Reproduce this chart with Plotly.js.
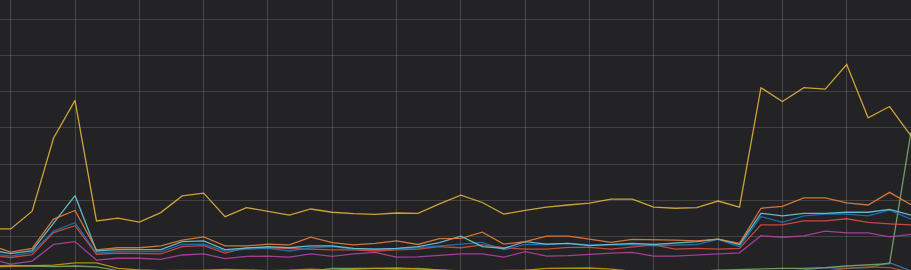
<!DOCTYPE html>
<html>
<head>
<meta charset="utf-8">
<script src="https://cdn.plot.ly/plotly-3.0.1.min.js"></script>
<style>
html,body{margin:0;padding:0;background:#232325;overflow:hidden;}
#chart{width:911px;height:270px;}
</style>
</head>
<body>
<div id="chart"></div>
<script>
// sample index (one point per time step)
const steps = Array.from({length: 44}, (_, i) => i);

const seriesGold = [12.1,12.1,17.0,37.2,47.6,14.3,15.1,14.0,16.6,21.2,22.0,15.5,18.0,16.9,15.9,17.6,16.7,16.3,16.1,16.5,16.4,19.0,21.4,19.4,16.2,17.2,18.1,18.7,19.2,20.3,20.3,18.1,17.8,18.0,19.8,18.1,51.1,47.3,51.1,50.7,57.5,42.8,45.9,37.8];
const seriesOrange = [7.7,5.7,6.7,14.8,17.2,6.3,6.9,6.9,7.4,9.0,9.9,7.4,7.4,7.9,7.7,9.8,8.3,7.7,8.1,8.8,7.8,9.4,9.5,11.2,7.9,8.6,10.1,10.1,9.3,8.4,9.2,9.2,9.0,8.8,9.3,8.1,17.8,18.3,20.7,20.7,19.3,18.7,22.2,18.8];
const seriesCyan = [6.3,5.3,6.1,13.7,21.3,6.0,6.4,6.4,6.4,8.6,8.8,6.4,6.7,7.2,6.9,7.4,7.4,6.7,6.5,6.7,7.2,8.3,10.1,7.2,6.7,8.6,7.9,8.1,7.5,7.8,8.1,7.8,8.1,8.6,9.3,7.8,16.4,15.7,16.4,16.4,16.7,16.7,17.5,15.9];
const seriesBlue = [5.4,4.6,5.6,11.5,13.8,5.4,5.8,5.8,5.8,7.8,7.9,6.0,6.5,6.7,6.0,6.9,7.2,6.5,6.5,6.5,6.9,7.4,7.7,8.4,6.3,7.8,7.8,8.1,7.7,7.8,7.8,7.4,7.7,7.8,9.2,7.2,15.5,13.9,15.7,16.2,16.2,15.7,17.3,14.8];
const seriesRed = [4.8,4.2,5.0,11.1,13.0,5.1,5.4,5.4,5.2,7.2,7.5,5.4,6.9,6.9,6.7,6.3,6.3,6.3,6.0,6.3,6.5,7.2,6.9,7.7,6.9,6.5,6.5,7.0,7.0,6.5,7.2,7.7,6.5,6.7,6.5,6.7,13.2,13.2,14.3,14.3,14.9,13.9,13.5,13.2];
const seriesPurple = [3.9,2.4,3.2,7.8,8.6,3.5,4.0,4.0,3.7,4.9,5.2,3.9,4.5,4.6,4.3,5.2,4.5,5.2,5.6,4.3,4.4,4.9,5.2,5.2,4.3,5.8,4.6,4.7,5.1,5.4,5.6,4.6,4.6,4.9,5.4,5.5,10.2,9.8,10.2,11.5,11.0,11.0,9.9,10.6];
const seriesYellowLow = [1.6,1.7,1.85,2.1,2.7,2.7,1.2,0.75,0.6,0.6,0.7,0.9,0.7,0.6,0.7,1.0,0.7,1.0,1.2,1.3,1.0,0.6,0.5,0.5,0.5,0.7,1.2,1.3,1.3,1.0,0.4,0.4,0.4,0.4,0.4,0.4,0.4,0.4,0.4,0.4,0.4,0.4,0.4,0.4];
const seriesGreen = [1.85,2.0,1.85,1.7,1.85,1.6,0.6,0.4,0.4,0.4,0.4,0.4,0.4,0.4,0.4,0.4,1.2,1.3,1.2,1.0,1.2,0.7,0.4,0.4,0.4,0.4,0.4,0.4,0.4,0.4,0.4,0.4,0.4,0.4,0.7,0.9,1.0,1.2,1.2,1.4,1.85,2.1,2.5,38.9];
const seriesBlueLow = [0.3,0.3,0.3,0.3,0.3,0.3,0.3,0.3,0.3,0.3,0.3,0.3,0.3,0.3,0.3,0.3,0.3,0.3,0.3,0.3,0.3,0.3,0.3,0.3,0.3,0.3,0.3,0.3,0.3,0.3,0.3,0.3,0.3,0.3,0.3,0.3,0.3,0.4,0.75,1.4,1.2,1.4,2.8,0.5];
const seriesOrangeLow = [0.2,0.2,0.2,0.2,0.2,0.2,0.2,0.2,0.2,0.2,0.2,0.2,0.2,0.2,0.2,0.2,0.2,0.2,0.2,0.2,0.2,0.2,0.2,0.2,0.2,0.2,0.2,0.2,0.2,0.2,0.2,0.2,0.2,0.2,0.2,0.2,0.2,0.2,0.2,0.4,1.2,1.6,1.4,0.2];

const seriesList = [
  {y: seriesBlueLow, color: '#447EBC'},
  {y: seriesOrangeLow, color: '#C15C17'},
  {y: seriesGreen, color: '#7EB26D'},
  {y: seriesYellowLow, color: '#CCA300'},
  {y: seriesPurple, color: '#BA43A9'},
  {y: seriesRed, color: '#E24D42'},
  {y: seriesBlue, color: '#1F78C1'},
  {y: seriesCyan, color: '#6ED0E0'},
  {y: seriesOrange, color: '#EF843C'},
  {y: seriesGold, color: '#EAB839'}
];

const traces = seriesList.map(s => ({
  x: steps, y: s.y, type: 'scatter', mode: 'lines',
  line: {color: s.color, width: 1.3},
  opacity: 0.85,
  hoverinfo: 'skip', showlegend: false
}));

const layout = {
  width: 911, height: 270,
  margin: {l: 0, r: 0, t: 0, b: 0, pad: 0},
  paper_bgcolor: '#232325', plot_bgcolor: '#232325',
  showlegend: false,
  xaxis: {range: [0.5, 43.0], tick0: 1, dtick: 3, showticklabels: false,
          showgrid: true, gridcolor: 'rgba(255,255,255,0.17)', gridwidth: 1,
          zeroline: false, showline: false, ticks: ''},
  yaxis: {range: [0.75, 75.33], tick0: 0, dtick: 10, showticklabels: false,
          showgrid: true, gridcolor: 'rgba(255,255,255,0.14)', gridwidth: 1,
          zeroline: false, showline: false, ticks: ''}
};

Plotly.newPlot('chart', traces, layout, {staticPlot: true, displayModeBar: false});
</script>
</body>
</html>
